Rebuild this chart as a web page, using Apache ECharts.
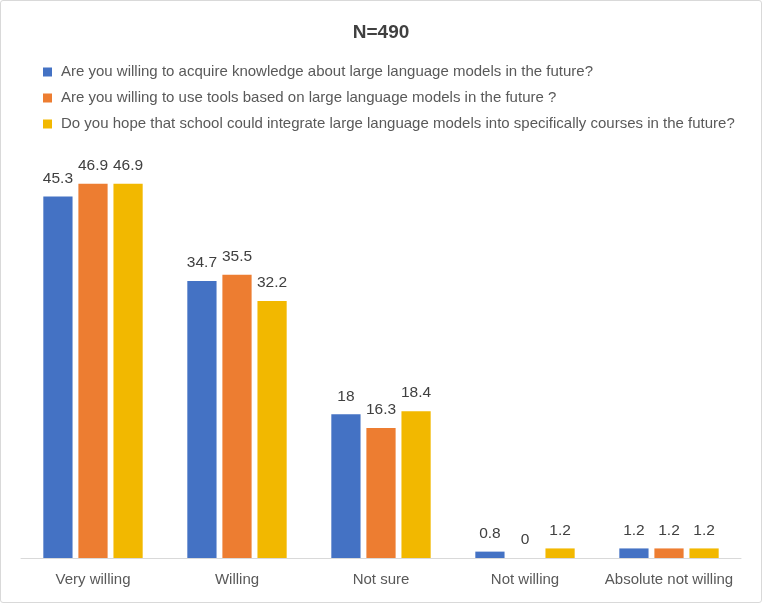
<!DOCTYPE html>
<html>
<head>
<meta charset="utf-8">
<script src="https://cdn.jsdelivr.net/npm/echarts@6/dist/echarts.min.js"></script>
<style>
  html, body { margin: 0; padding: 0; background: #fff; }
  #chart { width: 760px; height: 601px; border: 1px solid #d9d9d9; border-radius: 3px; }
</style>
</head>
<body>
<div id="chart"></div>
<script>
// data (percent)
var categories = ['Very willing', 'Willing', 'Not sure', 'Not willing', 'Absolute not willing'];
var seriesNames = [
    'Are you willing to acquire knowledge about large language models in the future?',
    'Are you willing to use tools based on large language models in the future ?',
    'Do you hope that school could integrate large language models into specifically courses in the future?'
];
var knowledge = [45.3, 34.7, 18, 0.8, 1.2];
var tools = [46.9, 35.5, 16.3, 0, 1.2];
var courses = [46.9, 32.2, 18.4, 1.2, 1.2];
var colors = ['#4472C4', '#ED7D31', '#F2B800'];

var font = 'Liberation Sans';
var myChart = echarts.init(document.getElementById('chart'));

var allData = [knowledge, tools, courses];
var series = [];
for (var i = 0; i < allData.length; i++) {
    series.push({
        name: seriesNames[i],
        type: 'bar',
        data: allData[i],
        barGap: '20%',
        barCategoryGap: '31%',
        itemStyle: { color: colors[i] },
        label: {
            show: true,
            position: 'top',
            distance: 10,
            color: '#404040',
            fontSize: 15.5,
            fontFamily: font
        }
    });
}

var option = {
    animation: false,
    color: colors,
    title: {
        text: 'N=490',
        left: 'center',
        top: 17,
        textStyle: { fontSize: 19, fontWeight: 'bold', color: '#404040', fontFamily: font }
    },
    legend: {
        orient: 'vertical',
        left: 42,
        top: 62,
        padding: 0,
        itemWidth: 9,
        itemHeight: 9,
        itemGap: 8,
        icon: 'rect',
        data: seriesNames,
        textStyle: { fontSize: 15, color: '#595959', fontFamily: font, padding: [0, 0, 0, 4], lineHeight: 18 }
    },
    grid: {
        left: 20,
        right: 20,
        top: 158,
        bottom: 44,
        containLabel: false
    },
    xAxis: {
        type: 'category',
        data: categories,
        axisLine: { lineStyle: { color: '#d9d9d9' } },
        axisTick: { show: false },
        axisLabel: { interval: 0, color: '#595959', fontSize: 15, margin: 14, fontFamily: font }
    },
    yAxis: {
        type: 'value',
        min: 0,
        max: 50,
        show: false,
        splitLine: { show: false }
    },
    series: series
};

myChart.setOption(option);
</script>
</body>
</html>
